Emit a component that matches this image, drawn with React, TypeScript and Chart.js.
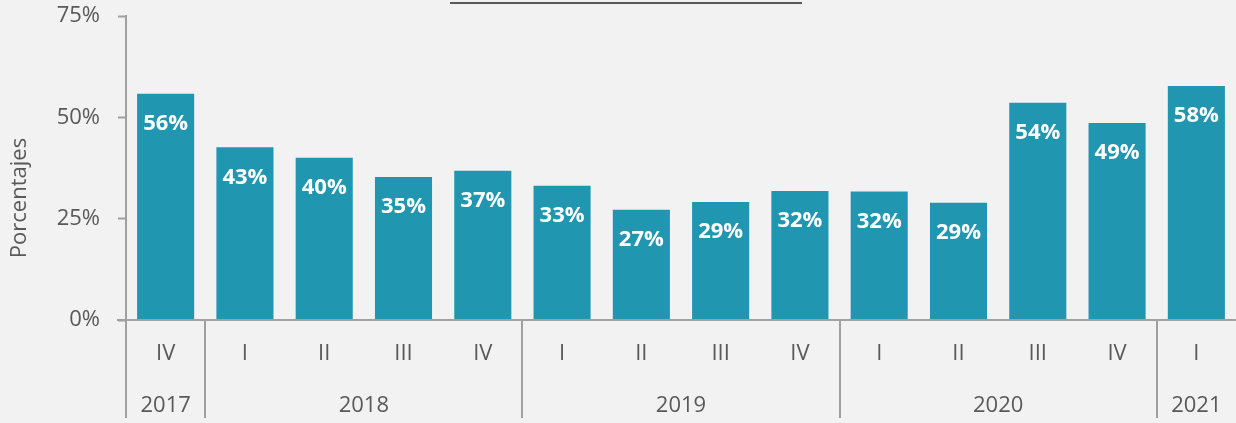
import React, { useEffect, useRef } from "react";
import { Chart, registerables } from "chart.js";

Chart.register(...registerables);

const quarters = ["IV", "I", "II", "III", "IV", "I", "II", "III", "IV", "I", "II", "III", "IV", "I"];
const years = ["2017", "2018", "2018", "2018", "2018", "2019", "2019", "2019", "2019", "2020", "2020", "2020", "2020", "2021"];
const values = [55.8, 42.6, 40.0, 35.3, 36.8, 33.1, 27.2, 29.1, 31.8, 31.7, 28.9, 53.6, 48.6, 57.7];
const yTicks = [0, 25, 50, 75];

const TEXT = "#595959";
const AXIS = "#a0a0a0";
const BAR = "#2196b0";
const FONT = "'Open Sans', sans-serif";

const customPlugin = {
  id: "custom",
  beforeDraw(chart: any) {
    const { ctx, width, height } = chart;
    ctx.save();
    ctx.fillStyle = "#f2f2f2";
    ctx.fillRect(0, 0, width, height);
    ctx.restore();
  },
  afterDraw(chart: any) {
    const { ctx, chartArea } = chart;
    const x = chart.scales.x;
    const bottom = chartArea.bottom;
    ctx.save();
    // data labels
    const meta = chart.getDatasetMeta(0);
    ctx.fillStyle = "#ffffff";
    ctx.font = `bold 22px ${FONT}`;
    ctx.textAlign = "center";
    ctx.textBaseline = "middle";
    meta.data.forEach((bar: any, i: number) => {
      ctx.fillText(Math.round(values[i]) + "%", bar.x, bar.y + 30);
    });
    // x axis line
    ctx.strokeStyle = AXIS;
    ctx.lineWidth = 2;
    ctx.beginPath();
    ctx.moveTo(chartArea.left - 9, bottom);
    ctx.lineTo(chartArea.right, bottom);
    ctx.stroke();
    // quarter labels
    ctx.fillStyle = TEXT;
    ctx.font = `22px ${FONT}`;
    quarters.forEach((q, i) => {
      ctx.fillText(q, x.getPixelForValue(i), bottom + 34);
    });
    // year groups and separators
    const half = (x.getPixelForValue(1) - x.getPixelForValue(0)) / 2;
    let start = 0;
    const seps: number[] = [x.getPixelForValue(0) - half];
    for (let i = 1; i <= years.length; i++) {
      if (i === years.length || years[i] !== years[start]) {
        const cx = (x.getPixelForValue(start) + x.getPixelForValue(i - 1)) / 2;
        ctx.fillText(years[start], cx, bottom + 86);
        if (i < years.length) seps.push(x.getPixelForValue(i) - half);
        start = i;
      }
    }
    ctx.strokeStyle = AXIS;
    ctx.lineWidth = 2;
    seps.forEach((sx) => {
      ctx.beginPath();
      ctx.moveTo(Math.round(sx), bottom);
      ctx.lineTo(Math.round(sx), bottom + 98);
      ctx.stroke();
    });
    // y title
    ctx.save();
    ctx.translate(20, 198);
    ctx.rotate(-Math.PI / 2);
    ctx.fillStyle = TEXT;
    ctx.font = `22px ${FONT}`;
    ctx.fillText("Porcentajes", 0, 0);
    ctx.restore();
    // top line
    ctx.strokeStyle = "#595959";
    ctx.lineWidth = 2;
    ctx.beginPath();
    ctx.moveTo(450, 3);
    ctx.lineTo(802, 3);
    ctx.stroke();
    ctx.restore();
  },
};

export default function App() {
  const ref = useRef<HTMLCanvasElement>(null);
  useEffect(() => {
    if (!ref.current) return;
    const chart = new Chart(ref.current, {
      type: "bar",
      data: {
        labels: quarters.map((q, i) => `${q} ${years[i]}`),
        datasets: [
          {
            data: values,
            backgroundColor: BAR,
            categoryPercentage: 1,
            barPercentage: 0.72,
          },
        ],
      },
      options: {
        animation: false,
        responsive: true,
        maintainAspectRatio: false,
        layout: { padding: { top: 16, bottom: 103, right: 0, left: 0 } },
        plugins: { legend: { display: false }, tooltip: { enabled: false }, title: { display: false } },
        scales: {
          x: { display: false },
          y: {
            min: 0,
            max: 75,
            afterFit: (s: any) => {
              s.width = 126;
              s.paddingTop = 0;
              s.paddingBottom = 0;
            },
            afterBuildTicks: (s: any) => {
              s.ticks = yTicks.map((v) => ({ value: v }));
            },
            ticks: {
              color: TEXT,
              font: { family: FONT, size: 22 },
              padding: 18,
              callback: (v: any) => v + "%",
            },
            grid: { drawOnChartArea: false, tickLength: 8, tickColor: AXIS, tickWidth: 2 },
            border: { color: AXIS, width: 2 },
          },
        },
      },
      plugins: [customPlugin],
    });
    return () => chart.destroy();
  }, []);
  return (
    <div style={{ position: "absolute", left: 0, top: 0, width: 1236, height: 423, background: "#f2f2f2" }}>
      <canvas ref={ref} />
    </div>
  );
}
